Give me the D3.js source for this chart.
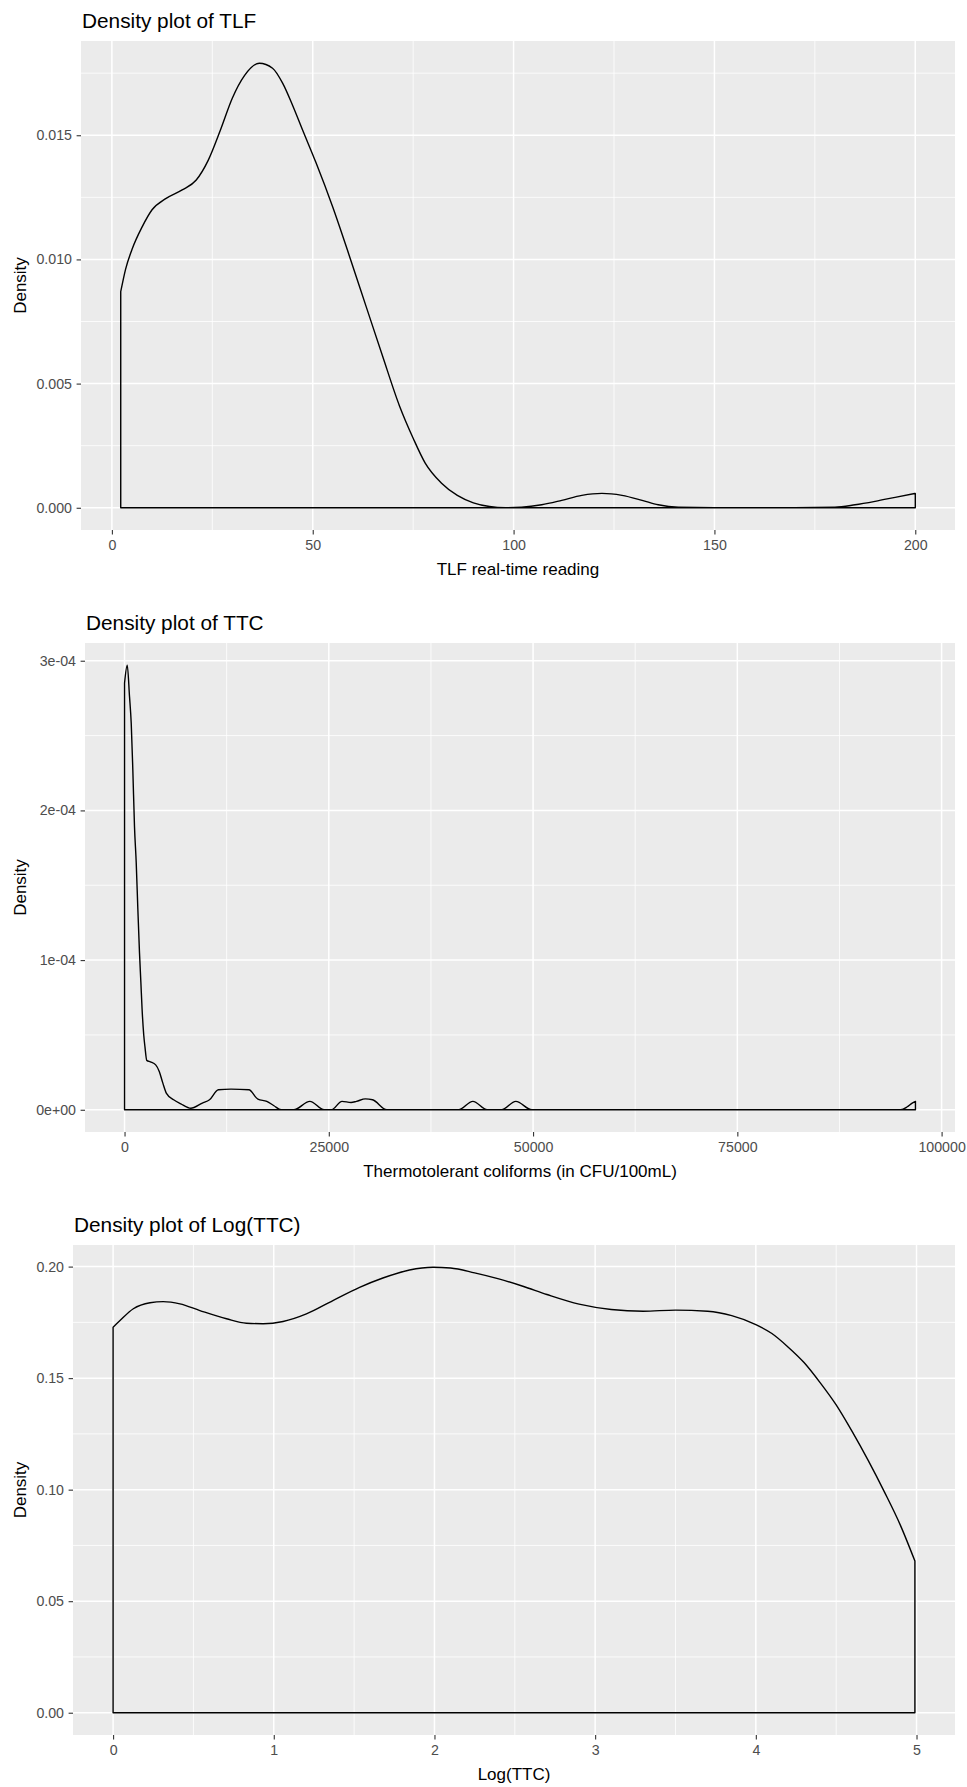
<!DOCTYPE html>
<html>
<head>
<meta charset="utf-8">
<script src="https://cdn.jsdelivr.net/npm/d3@7"></script>
<style>
  body { margin: 0; background: #fff; }
  svg { display: block; font-family: "Liberation Sans", Arial, sans-serif; }
</style>
</head>
<body>
<svg id="chart"></svg>
<script>
const W = 967;
const H = 1787;

// Density curve of TLF real-time readings
const tlfX = [2.2, 2.2, 3.4, 5, 7.5, 10, 13.4, 17.5, 21, 24, 27, 30, 33, 36.7, 40, 42.5, 45, 47.5, 50.8, 55,
    59, 63.3, 67.4, 71.6, 75, 78, 82, 86, 90, 94, 98, 102, 107, 112, 117, 122, 127, 132, 136, 141,
    150, 170, 180, 185, 190, 195, 200, 200];
const tlfDensity = [0, 0.0087, 0.0096, 0.0104, 0.0113, 0.0120, 0.01245, 0.0128, 0.0132, 0.0140, 0.0152, 0.0165, 0.0174, 0.0179, 0.0177, 0.0171, 0.0162, 0.0152, 0.0139, 0.0121,
    0.0102, 0.0081, 0.0061, 0.0041, 0.0028, 0.0018, 0.0010, 0.0005, 0.0002, 0.00005, 0, 0.00002, 0.00012, 0.0003, 0.0005, 0.00058, 0.0005, 0.0003, 0.00012, 0.00002,
    0, 0, 0.00002, 0.00012, 0.00026, 0.00042, 0.00058, 0];

// Density curve of TTC
const ttcX = [1, 1, 330, 610, 820, 1015, 1220, 1430, 1630, 1830, 2000, 2150, 2350, 2500, 2720, 3160, 3815, 4250, 4690, 5130,
    6010, 6890, 8110, 9520, 10400, 11490, 13030, 15220, 16320, 17410, 18290, 19170, 20700, 22680, 24430, 25300, 26620, 27720, 28380, 29470,
    30350, 32100, 40880, 42630, 44390, 46140, 47890, 49860, 95000, 95800, 96400, 96800, 96800];
const ttcDensity = [0, 2.85e-4, 2.97e-4, 2.76e-4, 2.58e-4, 2.27e-4, 1.89e-4, 1.65e-4, 1.34e-4, 1.05e-4, 0.85e-4, 0.67e-4, 0.50e-4, 0.42e-4, 0.33e-4, 0.32e-4, 0.30e-4, 0.256e-4, 0.178e-4, 0.11e-4,
    0.067e-4, 0.04e-4, 0.01e-4, 0.045e-4, 0.067e-4, 0.134e-4, 0.138e-4, 0.134e-4, 0.071e-4, 0.056e-4, 0.027e-4, 0, 0, 0.056e-4, 0, 0, 0.056e-4, 0.049e-4, 0.056e-4, 0.073e-4,
    0.067e-4, 0, 0, 0.056e-4, 0, 0, 0.056e-4, 0, 0, 0.02e-4, 0.045e-4, 0.056e-4, 0];

// Density curve of Log(TTC)
const logX = [0, 0, 0.043, 0.126, 0.23, 0.312, 0.416, 0.54, 0.706, 0.83, 0.934, 1.058, 1.203, 1.368, 1.534, 1.679, 1.845, 1.99, 2.1, 2.25,
    2.4, 2.55, 2.7, 2.9, 3.1, 3.3, 3.5, 3.7, 3.85, 4.0, 4.1, 4.2, 4.3, 4.4, 4.5, 4.6, 4.7, 4.8, 4.9, 4.99, 4.99];
const logDensity = [0, 0.1728, 0.1758, 0.1811, 0.1838, 0.1843, 0.1833, 0.1803, 0.1766, 0.1746, 0.1744, 0.1754, 0.1788, 0.1848, 0.1907, 0.1949, 0.1985, 0.1997, 0.1994, 0.1972,
    0.1945, 0.1912, 0.1875, 0.1832, 0.1808, 0.180, 0.1805, 0.180, 0.178, 0.174, 0.170, 0.164, 0.157, 0.148, 0.138, 0.126, 0.113, 0.099, 0.084, 0.068, 0];

// Ticks and labels
const tlfXTicks = [0, 50, 100, 150, 200];
const tlfXTickLabels = ["0", "50", "100", "150", "200"];
const tlfYTicks = [0, 0.005, 0.010, 0.015];
const tlfYTickLabels = ["0.000", "0.005", "0.010", "0.015"];

const ttcXTicks = [0, 25000, 50000, 75000, 100000];
const ttcXTickLabels = ["0", "25000", "50000", "75000", "100000"];
const ttcYTicks = [0, 1e-4, 2e-4, 3e-4];
const ttcYTickLabels = ["0e+00", "1e-04", "2e-04", "3e-04"];

const logXTicks = [0, 1, 2, 3, 4, 5];
const logXTickLabels = ["0", "1", "2", "3", "4", "5"];
const logYTicks = [0, 0.05, 0.10, 0.15, 0.20];
const logYTickLabels = ["0.00", "0.05", "0.10", "0.15", "0.20"];

const titles = ["Density plot of TLF", "Density plot of TTC", "Density plot of Log(TTC)"];
const xTitles = ["TLF real-time reading", "Thermotolerant coliforms (in CFU/100mL)", "Log(TTC)"];
const yTitle = "Density";

const panels = [
    { title: titles[0], xTitle: xTitles[0], xs: tlfX, ys: tlfDensity,
      xTicks: tlfXTicks, xLabels: tlfXTickLabels, yTicks: tlfYTicks, yLabels: tlfYTickLabels,
      box: { left: 81, right: 955, top: 41, bottom: 530 } },
    { title: titles[1], xTitle: xTitles[1], xs: ttcX, ys: ttcDensity,
      xTicks: ttcXTicks, xLabels: ttcXTickLabels, yTicks: ttcYTicks, yLabels: ttcYTickLabels,
      box: { left: 85, right: 955, top: 643, bottom: 1132 } },
    { title: titles[2], xTitle: xTitles[2], xs: logX, ys: logDensity,
      xTicks: logXTicks, xLabels: logXTickLabels, yTicks: logYTicks, yLabels: logYTickLabels,
      box: { left: 73, right: 955, top: 1245, bottom: 1735 } }
];

const svg = d3.select("#chart")
    .attr("width", W)
    .attr("height", H);

svg.append("rect")
    .attr("width", W)
    .attr("height", H)
    .attr("fill", "#fff");

panels.forEach(drawPanel);

// Minor breaks sit halfway between the major ones (ggplot style)
function minorBreaks(ticks, domain) {
    const step = ticks[1] - ticks[0];
    const out = [];
    for (let v = ticks[0] - step / 2; v <= ticks[ticks.length - 1] + step / 2 + step * 1e-6; v += step) {
        if (v >= domain[0] && v <= domain[1]) out.push(v);
    }
    return out;
}

function drawPanel(p) {
    const b = p.box;

    // 5% expansion on both sides, like ggplot
    const xExt = d3.extent(p.xs);
    const xPad = (xExt[1] - xExt[0]) * 0.05;
    const x = d3.scaleLinear()
        .domain([xExt[0] - xPad, xExt[1] + xPad])
        .range([b.left, b.right]);

    const yMax = d3.max(p.ys);
    const y = d3.scaleLinear()
        .domain([-yMax * 0.05, yMax * 1.05])
        .range([b.bottom, b.top]);

    const g = svg.append("g");

    // Panel background
    g.append("rect")
        .attr("x", b.left)
        .attr("y", b.top)
        .attr("width", b.right - b.left)
        .attr("height", b.bottom - b.top)
        .attr("fill", "#EBEBEB");

    // Minor grid
    g.append("g")
        .selectAll("line")
        .data(minorBreaks(p.xTicks, x.domain()))
        .enter().append("line")
        .attr("x1", d => x(d)).attr("x2", d => x(d))
        .attr("y1", b.top).attr("y2", b.bottom)
        .attr("stroke", "#fff").attr("stroke-width", 0.8);

    g.append("g")
        .selectAll("line")
        .data(minorBreaks(p.yTicks, y.domain()))
        .enter().append("line")
        .attr("x1", b.left).attr("x2", b.right)
        .attr("y1", d => y(d)).attr("y2", d => y(d))
        .attr("stroke", "#fff").attr("stroke-width", 0.8);

    // Major grid
    g.append("g")
        .selectAll("line")
        .data(p.xTicks)
        .enter().append("line")
        .attr("x1", d => x(d)).attr("x2", d => x(d))
        .attr("y1", b.top).attr("y2", b.bottom)
        .attr("stroke", "#fff").attr("stroke-width", 1.5);

    g.append("g")
        .selectAll("line")
        .data(p.yTicks)
        .enter().append("line")
        .attr("x1", b.left).attr("x2", b.right)
        .attr("y1", d => y(d)).attr("y2", d => y(d))
        .attr("stroke", "#fff").attr("stroke-width", 1.5);

    // Density outline: closed polygon, smooth along the top
    const pts = p.xs.map((v, i) => [x(v), y(p.ys[i])]);
    const inner = d3.line().curve(d3.curveMonotoneX)(pts.slice(1, -1));
    const first = pts[0];
    const last = pts[pts.length - 1];
    g.append("path")
        .attr("d", `M${first[0]},${first[1]}L${inner.slice(1)}L${last[0]},${last[1]}Z`)
        .attr("fill", "none")
        .attr("stroke", "#000")
        .attr("stroke-width", 1.4)
        .attr("stroke-linejoin", "round");

    // Axes
    const xAxis = g.append("g")
        .attr("transform", `translate(0,${b.bottom})`)
        .call(d3.axisBottom(x)
            .tickValues(p.xTicks)
            .tickFormat((d, i) => p.xLabels[i])
            .tickSize(4.4)
            .tickPadding(5.5));

    const yAxis = g.append("g")
        .attr("transform", `translate(${b.left},0)`)
        .call(d3.axisLeft(y)
            .tickValues(p.yTicks)
            .tickFormat((d, i) => p.yLabels[i])
            .tickSize(4.4)
            .tickPadding(4.6));

    [xAxis, yAxis].forEach(ax => {
        ax.select(".domain").remove();
        ax.selectAll(".tick line").attr("stroke", "#333333").attr("stroke-width", 1.1);
        ax.selectAll(".tick text")
            .attr("fill", "#4D4D4D")
            .style("font-size", "14.2px")
            .style("font-family", "'Liberation Sans', Arial, sans-serif");
    });

    // Titles
    g.append("text")
        .attr("x", b.left + 1)
        .attr("y", b.top - 13)
        .style("font-size", "20.8px")
        .attr("fill", "#000")
        .text(p.title);

    g.append("text")
        .attr("x", (b.left + b.right) / 2)
        .attr("y", b.bottom + 45)
        .attr("text-anchor", "middle")
        .style("font-size", "17px")
        .attr("fill", "#000")
        .text(p.xTitle);

    g.append("text")
        .attr("transform", `translate(26,${(b.top + b.bottom) / 2}) rotate(-90)`)
        .attr("text-anchor", "middle")
        .style("font-size", "17px")
        .attr("fill", "#000")
        .text(yTitle);
}
</script>
</body>
</html>
